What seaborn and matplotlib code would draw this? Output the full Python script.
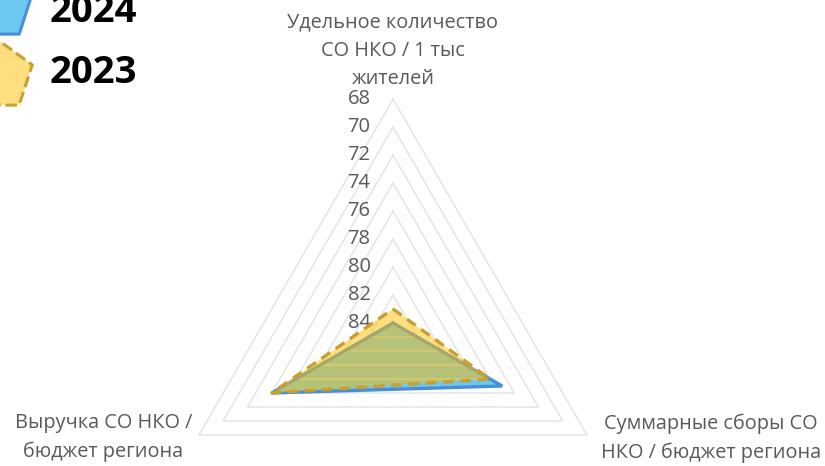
import numpy as np
import matplotlib
matplotlib.use('Agg')
import matplotlib.pyplot as plt
from matplotlib.patches import RegularPolygon
import seaborn as sns

# Dane: pozycje w rankingu (skala odwrócona: 84 w środku, 68 na zewnątrz)
categories = ['Удельное количество\nСО НКО / 1 тыс\nжителей',
              'Суммарные сборы СО\nНКО / бюджет региона',
              'Выручка СО НКО /\nбюджет региона']
values_2024 = [84, 75, 74]
values_2023 = [83, 76, 74]
ticks = [68, 70, 72, 74, 76, 78, 80, 82, 84]
series_names = ['2024', '2023']

sns.set_theme(style='white')
plt.rcParams['font.family'] = ['Open Sans', 'DejaVu Sans']

r_max = max(ticks)
angles = np.deg2rad([90, -30, -150])


def to_xy(vals):
    r = r_max - np.array(vals, dtype=float)
    x = r * np.cos(angles)
    y = r * np.sin(angles)
    return np.append(x, x[0]), np.append(y, y[0])


fig = plt.figure(figsize=(8.25, 4.66), dpi=100)
ax = fig.add_axes([0, 0, 1, 1])
ax.set_xlim(-393 / 14, (825 - 393) / 14)
ax.set_ylim((323 - 466) / 14, 323 / 14)
ax.set_aspect('equal')
ax.axis('off')

grid_col = '#D9D9D9'
text_col = '#595959'

# Siatka trójkątna
for t in ticks[:-1]:
    gx, gy = to_xy([t, t, t])
    ax.plot(gx, gy, color=grid_col, lw=1.1, zorder=2.5, alpha=0.7)

# Etykiety osi wartości
for t in ticks:
    ax.text(-1.6, r_max - t, str(t), ha='right', va='center',
            fontsize=14.5, color=text_col)

# Seria 2024
blue_fill = '#6CC8F0'
blue_edge = '#4A8FD6'
bx, by = to_xy(values_2024)
ax.fill(bx, by, color=blue_fill, zorder=2)
ax.plot(bx, by, color=blue_edge, lw=2.4, zorder=3, solid_joinstyle='miter')

# Seria 2023
gold_fill = '#FFBE00'
gold_edge = '#C9A02F'
yx, yy = to_xy(values_2023)
ax.fill(yx, yy, color=gold_fill, alpha=0.5, lw=0, zorder=4)
ax.plot(yx, yy, color=gold_edge, lw=2.4, ls=(0, (3.2, 2.0)), zorder=5)

# Etykiety kategorii
r_out = r_max - ticks[0]
ax.text(0, r_out + 0.7, categories[0], ha='center', va='bottom',
        fontsize=14.3, color=text_col, linespacing=1.55)
ax.text(r_out * np.cos(angles[1]) + 1.0, -8.2, categories[1], ha='left',
        va='center', multialignment='center', fontsize=14.3, color=text_col,
        linespacing=1.55)
ax.text(r_out * np.cos(angles[2]) - 0.5, -8.2, categories[2], ha='right',
        va='center', multialignment='center', fontsize=14.3, color=text_col,
        linespacing=1.55)

# Legenda (przycięta przy lewej krawędzi)
leg = [(4.61, 12, blue_fill, blue_edge, '-', 1.0),
       (3.90, 73, gold_fill, gold_edge, '--', 0.5)]
for (cy, ty, fc, ec, ls, a), name in zip(leg, series_names):
    face = matplotlib.colors.to_rgba(fc, a)
    fig.add_artist(RegularPolygon((-0.02, cy), 5, radius=0.36,
                                  facecolor=face, edgecolor=ec, lw=2.2,
                                  ls=ls, transform=fig.dpi_scale_trans))
    fig.text(50 / 825, 1 - ty / 466, name, ha='left', va='center',
             fontsize=27.5, fontweight='bold', color='black')

plt.savefig('out.png', dpi=100)
